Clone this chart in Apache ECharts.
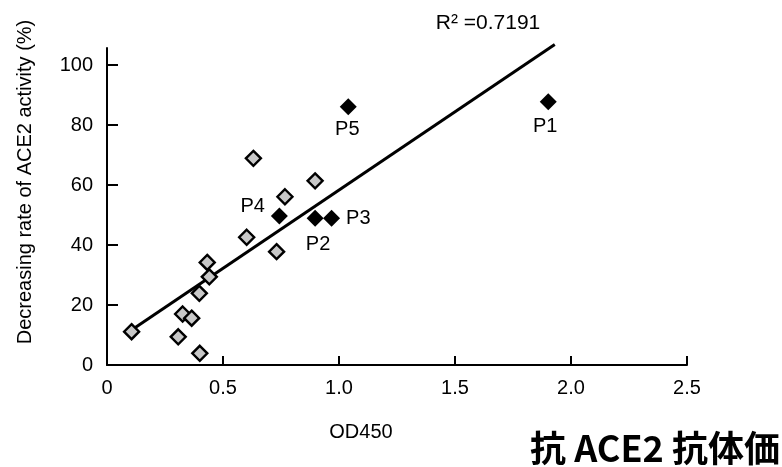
<!DOCTYPE html>
<html>
<head>
<meta charset="utf-8">
<script src="https://cdn.jsdelivr.net/npm/echarts@6/dist/echarts.min.js"></script>
<style>html,body{margin:0;padding:0;background:#fff;}#c{width:782px;height:467px;}</style>
</head>
<body>
<div id="c"></div>
<script>
// --- data ---
var grayX = [0.106, 0.307, 0.326, 0.365, 0.400, 0.398, 0.432, 0.441, 0.602, 0.731, 0.631, 0.767, 0.897];
var grayY = [11.1, 9.4, 17.0, 15.6, 3.9, 23.9, 34.2, 29.4, 42.6, 37.8, 68.9, 56.1, 61.4];
var blackNames = ['P1', 'P2', 'P3', 'P4', 'P5'];
var blackX = [1.902, 0.897, 0.968, 0.743, 1.040];
var blackY = [87.8, 48.9, 48.9, 49.7, 86.1];
var fitX = [0.106, 1.930];
var fitY = [11.7, 106.9];
var xTickValues = [0, 0.5, 1.0, 1.5, 2.0, 2.5];
var xTickLabels = ['0', '0.5', '1.0', '1.5', '2.0', '2.5'];
var yTickValues = [0, 20, 40, 60, 80, 100];
var yTickLabels = ['0', '20', '40', '60', '80', '100'];
var r2Text = 'R\u00B2 =0.7191';
var xName = 'OD450';
var yName = 'Decreasing rate of ACE2 activity (%)';
var caption = '抗 ACE2 抗体価';

// --- label placement (style) ---
var labelStyle = {
  P1: {position: 'bottom', distance: 6, offset: [-3, 0]},
  P2: {position: 'bottom', distance: 8, offset: [3, 0]},
  P3: {position: 'right', distance: 6, offset: [0, 0]},
  P4: {position: 'left', distance: 6, offset: [0, -9]},
  P5: {position: 'bottom', distance: 4, offset: [-1, 0]}
};

var grayData = grayX.map(function (x, i) { return [x, grayY[i]]; });
var blackData = blackX.map(function (x, i) {
  var ls = labelStyle[blackNames[i]];
  return {
    name: blackNames[i],
    value: [x, blackY[i]],
    label: {show: true, formatter: blackNames[i], position: ls.position, distance: ls.distance, offset: ls.offset}
  };
});
var fitData = fitX.map(function (x, i) { return [x, fitY[i]]; });

var font = 'Liberation Sans, Arial, sans-serif';
var chart = echarts.init(document.getElementById('c'), null, {renderer: 'canvas'});
chart.setOption({
  animation: false,
  backgroundColor: '#fff',
  grid: {left: 107, right: 95, top: 48, bottom: 102, containLabel: false},
  xAxis: {
    type: 'value', min: 0, max: 2.5, interval: 0.5,
    axisLine: {show: true, lineStyle: {color: '#000', width: 2}},
    axisTick: {show: true, inside: true, length: 9, lineStyle: {color: '#000', width: 2},
      customValues: xTickValues.slice(1)},
    axisLabel: {color: '#000', fontSize: 20, fontFamily: font, margin: 13,
      customValues: xTickValues,
      formatter: function (v) { var i = xTickValues.indexOf(v); return i >= 0 ? xTickLabels[i] : ''; }},
    splitLine: {show: false}
  },
  yAxis: {
    type: 'value', min: 0, max: 105.7,
    axisLine: {show: true, lineStyle: {color: '#000', width: 2}},
    axisTick: {show: true, inside: true, length: 11, lineStyle: {color: '#000', width: 2},
      customValues: yTickValues.slice(1)},
    axisLabel: {color: '#000', fontSize: 20, fontFamily: font, margin: 14,
      customValues: yTickValues,
      formatter: function (v) { var i = yTickValues.indexOf(v); return i >= 0 ? yTickLabels[i] : ''; }},
    splitLine: {show: false}
  },
  title: [
    {text: xName, left: 361, top: 432, textAlign: 'center', textVerticalAlign: 'middle',
      textStyle: {fontSize: 20, fontWeight: 'normal', color: '#000', fontFamily: font}, padding: 0},
    {text: r2Text, left: 488, top: 23, textAlign: 'center', textVerticalAlign: 'middle',
      textStyle: {fontSize: 21, fontWeight: 'normal', color: '#000', fontFamily: font}, padding: 0},
    {text: caption, left: 655, top: 448, textAlign: 'center', textVerticalAlign: 'middle',
      textStyle: {fontSize: 36, fontWeight: 'bold', color: '#000', fontFamily: 'Noto Sans CJK JP, sans-serif'}, padding: 0}
  ],
  graphic: [
    {type: 'text', x: 25, y: 182, rotation: Math.PI / 2,
      style: {text: yName, fill: '#000', font: '20px ' + font, textAlign: 'center', textVerticalAlign: 'middle'}}
  ],
  series: [
    {
      type: 'line', data: fitData, showSymbol: false, symbol: 'none', clip: false,
      lineStyle: {color: '#000', width: 3}, z: 1
    },
    {
      type: 'scatter', data: grayData, symbol: 'diamond', symbolSize: 15,
      itemStyle: {color: '#c8c8c8', borderColor: '#000', borderWidth: 2.4, opacity: 1}, z: 3
    },
    {
      type: 'scatter', data: blackData, symbol: 'diamond', symbolSize: 17,
      itemStyle: {color: '#000', opacity: 1}, z: 3,
      label: {color: '#000', fontSize: 20, fontFamily: font}
    }
  ]
});
</script>
</body>
</html>
